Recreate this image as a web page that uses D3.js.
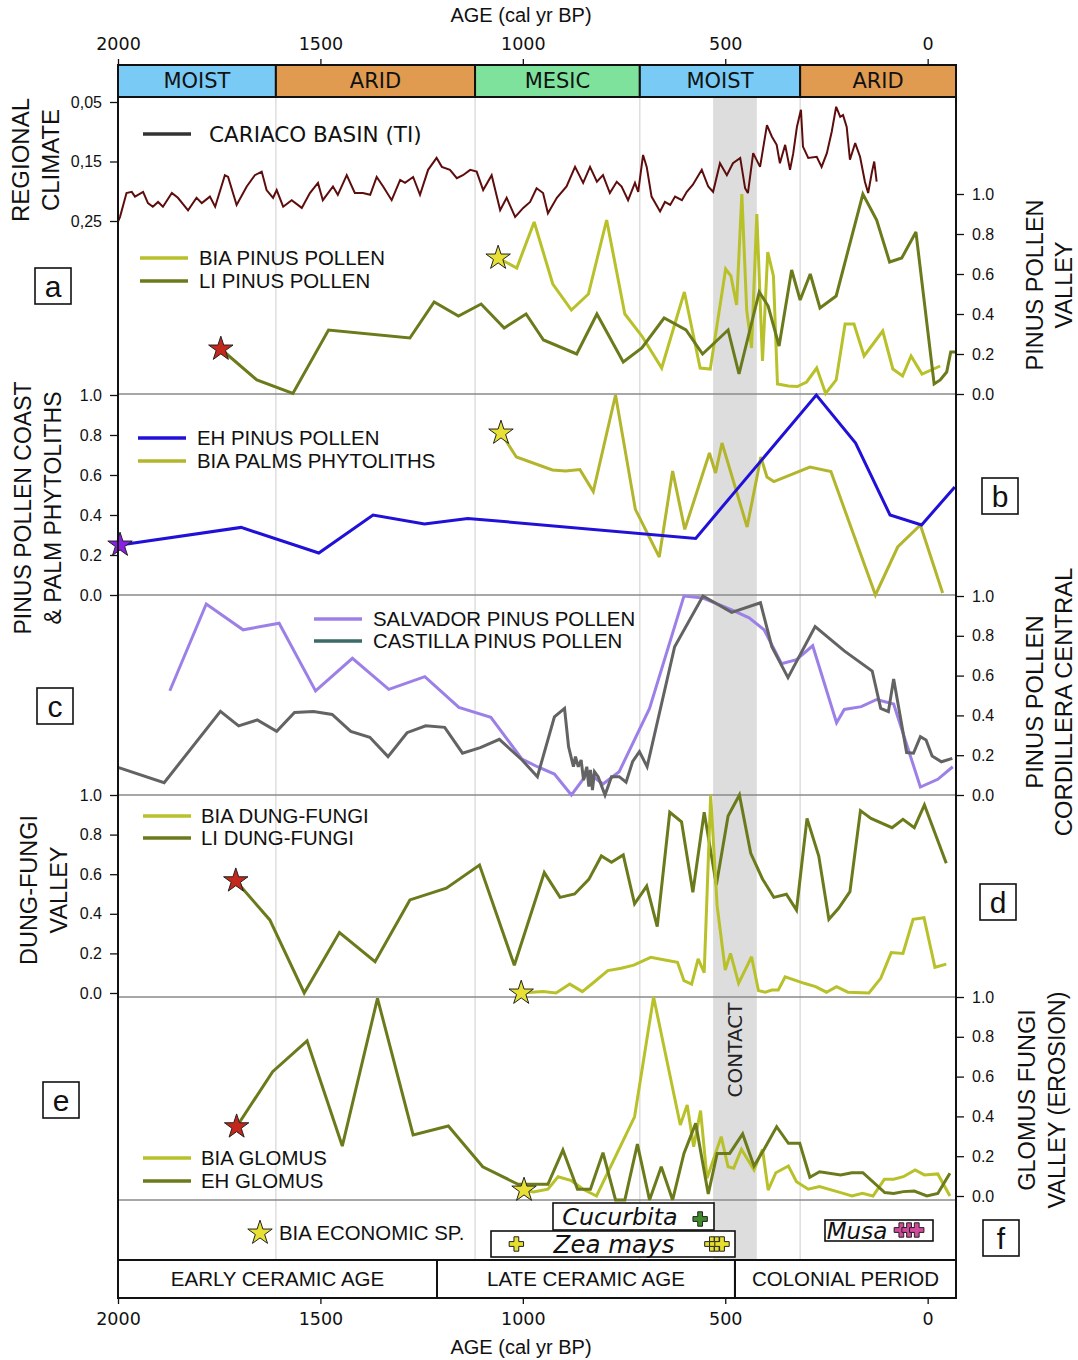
<!DOCTYPE html>
<html>
<head>
<meta charset="utf-8">
<script src="https://cdn.jsdelivr.net/npm/d3@7"></script>
<style>body{margin:0;background:#fff}</style>
</head>
<body>
<div id="chart"></div>
<script>
// ---- data (age cal yr BP, value) ----
var climateBreaks = [2000, 1610, 1118, 711, 315, -70];
var climateNames = ["MOIST", "ARID", "MESIC", "MOIST", "ARID"];
var periodBreaks = [2000, 1212, 476, -70];
var periodNames = ["EARLY CERAMIC AGE", "LATE CERAMIC AGE", "COLONIAL PERIOD"];
var contactAges = [530, 422];
var ageTicks = [2000, 1500, 1000, 500, 0];

var cariaco = [[2000,0.251],[1995,0.243],[1979,0.203],[1966,0.201],[1958,0.209],[1938,0.201],[1926,0.220],[1914,0.226],[1901,0.218],[1889,0.226],[1867,0.203],[1852,0.211],[1827,0.232],[1806,0.211],[1793,0.220],[1773,0.209],[1760,0.226],[1736,0.173],[1728,0.176],[1707,0.223],[1682,0.192],[1662,0.173],[1645,0.167],[1633,0.198],[1617,0.211],[1608,0.198],[1592,0.226],[1571,0.215],[1546,0.228],[1526,0.203],[1506,0.186],[1494,0.215],[1469,0.192],[1457,0.206],[1435,0.173],[1415,0.203],[1395,0.203],[1377,0.206],[1361,0.176],[1345,0.192],[1324,0.215],[1303,0.181],[1291,0.186],[1271,0.176],[1254,0.206],[1234,0.164],[1213,0.144],[1200,0.159],[1180,0.164],[1163,0.178],[1148,0.173],[1130,0.164],[1114,0.167],[1098,0.198],[1077,0.173],[1056,0.232],[1040,0.211],[1019,0.243],[999,0.228],[982,0.218],[966,0.195],[950,0.203],[938,0.237],[916,0.211],[892,0.192],[871,0.159],[851,0.186],[834,0.159],[817,0.184],[802,0.173],[785,0.203],[768,0.184],[756,0.192],[740,0.215],[723,0.186],[715,0.201],[703,0.139],[694,0.159],[682,0.209],[661,0.234],[649,0.218],[636,0.223],[624,0.209],[607,0.215],[595,0.201],[580,0.189],[558,0.164],[542,0.192],[530,0.201],[513,0.153],[496,0.173],[481,0.153],[463,0.144],[451,0.195],[444,0.203],[431,0.136],[414,0.159],[397,0.089],[385,0.108],[373,0.122],[365,0.153],[352,0.122],[340,0.164],[332,0.136],[323,0.092],[313,0.063],[308,0.125],[295,0.144],[274,0.142],[262,0.159],[249,0.136],[237,0.100],[226,0.058],[216,0.075],[209,0.072],[200,0.092],[192,0.147],[179,0.119],[167,0.142],[155,0.184],[147,0.203],[138,0.169],[132,0.150],[126,0.184]];

var liPinus = [[1746,0.225],[1657,0.07],[1568,0.003],[1480,0.32],[1279,0.28],[1219,0.46],[1159,0.39],[1103,0.45],[1046,0.33],[992,0.40],[949,0.27],[867,0.20],[817,0.40],[752,0.16],[706,0.23],[651,0.38],[597,0.32],[556,0.20],[493,0.32],[466,0.10],[416,0.51],[394,0.44],[367,0.24],[336,0.62],[315,0.47],[290,0.60],[266,0.43],[226,0.49],[160,1.0],[126,0.87],[94,0.66],[64,0.68],[29,0.81],[-16,0.05],[-31,0.07],[-47,0.11],[-57,0.21],[-70,0.21]];
var biaPinus = [[1061,0.68],[1015,0.63],[972,0.86],[926,0.55],[880,0.42],[838,0.50],[793,0.87],[748,0.40],[706,0.29],[657,0.13],[601,0.51],[562,0.13],[537,0.125],[499,0.625],[486,0.59],[472,0.445],[459,1.0],[447,0.42],[435,0.23],[422,0.90],[408,0.165],[395,0.71],[381,0.59],[371,0.05],[344,0.04],[322,0.037],[299,0.06],[274,0.13],[252,0.003],[226,0.07],[204,0.35],[182,0.35],[157,0.19],[111,0.315],[86,0.125],[62,0.09],[41,0.19],[14,0.1],[-31,0.14]];

var ehPinus = [[1995,0.25],[1696,0.338],[1504,0.21],[1370,0.40],[1243,0.355],[1136,0.383],[573,0.283],[275,1.0],[178,0.76],[93,0.40],[15,0.35],[-67,0.54]];
var palms = [[1054,0.81],[1016,0.69],[927,0.625],[894,0.62],[859,0.627],[826,0.517],[771,1.0],[722,0.428],[663,0.19],[630,0.62],[600,0.328],[539,0.71],[524,0.61],[508,0.76],[446,0.34],[412,0.69],[397,0.59],[380,0.567],[291,0.64],[239,0.617],[129,0.0],[74,0.24],[18,0.35],[-37,0.01]];

var salvador = [[1872,0.524],[1782,0.96],[1691,0.83],[1602,0.863],[1512,0.523],[1421,0.687],[1331,0.531],[1242,0.595],[1158,0.44],[1079,0.39],[1002,0.18],[964,0.142],[922,0.105],[880,0.0],[839,0.112],[802,0.055],[762,0.117],[687,0.435],[602,1.0],[555,0.99],[484,0.93],[441,0.89],[404,0.83],[361,0.66],[324,0.68],[284,0.75],[225,0.363],[206,0.43],[164,0.444],[126,0.48],[84,0.457],[18,0.04],[-25,0.079],[-62,0.142]];
var castilla = [[2000,0.139],[1886,0.062],[1747,0.42],[1702,0.347],[1656,0.377],[1608,0.32],[1564,0.415],[1517,0.42],[1471,0.405],[1425,0.32],[1378,0.29],[1333,0.193],[1286,0.313],[1240,0.348],[1193,0.34],[1149,0.21],[1105,0.238],[1058,0.28],[1002,0.176],[964,0.092],[922,0.393],[897,0.435],[887,0.243],[875,0.142],[870,0.193],[863,0.142],[856,0.176],[850,0.075],[842,0.142],[837,0.042],[833,0.126],[828,0.025],[823,0.117],[814,0.092],[797,0.0],[781,0.092],[762,0.092],[745,0.064],[729,0.167],[712,0.218],[693,0.142],[625,0.745],[555,1.0],[484,0.918],[413,0.966],[385,0.745],[345,0.59],[278,0.846],[206,0.724],[137,0.623],[116,0.435],[97,0.419],[84,0.583],[52,0.213],[35,0.21],[18,0.293],[4,0.276],[-11,0.196],[-34,0.167],[-61,0.184]];

var liDung = [[1709,0.567],[1625,0.369],[1540,0.0],[1453,0.305],[1365,0.158],[1279,0.47],[1189,0.529],[1107,0.646],[1021,0.14],[947,0.608],[908,0.483],[872,0.5],[837,0.574],[806,0.692],[781,0.66],[752,0.697],[724,0.45],[694,0.54],[668,0.335],[637,0.913],[608,0.865],[580,0.509],[552,0.913],[522,0.545],[493,0.894],[465,1.0],[437,0.705],[408,0.576],[380,0.483],[349,0.499],[324,0.419],[298,0.882],[269,0.692],[244,0.372],[220,0.428],[192,0.512],[166,0.921],[140,0.882],[88,0.835],[61,0.877],[33,0.835],[8,0.95],[-46,0.655]];
var biaDung = [[1004,0.0],[950,0.007],[918,0.0],[884,0.045],[853,0.007],[823,0.057],[790,0.113],[757,0.125],[726,0.141],[684,0.18],[649,0.167],[618,0.155],[602,0.062],[583,0.045],[567,0.172],[552,0.103],[536,1.0],[520,0.44],[500,0.116],[487,0.2],[467,0.049],[435,0.183],[418,0.012],[401,0.004],[385,0.015],[369,0.015],[352,0.082],[305,0.049],[277,0.032],[250,0.004],[225,0.032],[197,0.004],[145,0.0],[116,0.074],[90,0.204],[61,0.2],[36,0.372],[9,0.38],[-18,0.13],[-46,0.146]];

var ehGlomus = [[1707,0.348],[1618,0.625],[1533,0.78],[1446,0.251],[1359,0.993],[1271,0.307],[1184,0.352],[1099,0.147],[1012,0.059],[938,0.059],[901,0.231],[865,0.034],[833,0.034],[802,0.218],[771,-0.02],[748,-0.02],[717,0.261],[687,-0.02],[658,0.147],[630,-0.02],[602,0.214],[573,0.365],[542,0.01],[520,0.214],[489,0.214],[457,0.312],[429,0.151],[404,0.235],[373,0.348],[344,0.265],[316,0.265],[291,0.094],[267,0.122],[215,0.106],[187,0.117],[160,0.117],[106,0.017],[84,0.013],[60,0.022],[33,0.025],[2,0.0],[-25,0.013],[-55,0.114]];
var biaGlomus = [[997,0.03],[974,0.02],[938,0.034],[913,0.097],[880,0.077],[851,0.034],[818,0.0],[724,0.398],[677,1.0],[611,0.357],[594,0.457],[578,0.248],[561,0.429],[545,0.089],[510,0.298],[493,0.147],[479,0.14],[460,0.235],[429,0.131],[408,0.235],[394,0.03],[375,0.117],[344,0.151],[324,0.072],[295,0.034],[267,0.047],[215,0.017],[187,0.0],[161,0.013],[135,0.0],[107,0.084],[84,0.084],[60,0.097],[31,0.131],[8,0.106],[-25,0.111],[-55,0.0]];

var cucurbitaAges = [562];
var zeaAges = [1016, 533, 521, 508];
var musaAges = [65, 46, 27];

// ---- settings ----
var W = 1078, H = 1360, L = 118, R = 956;
var col = {cariaco: "#5e0d0d", light: "#b8c12a", olive: "#6b7a1b", blue: "#2010d8", palms: "#b3b52c",
    salvador: "#9c80e8", castilla: "#636363", castillaKey: "#3c6a66", contact: "#dddddd", grid: "#d6d6d6",
    moist: "#79cbf5", arid: "#e09b50", mesic: "#7ee29c"};
var font = {sans: "'Liberation Sans', Arial, sans-serif", deja: "'DejaVu Sans', Verdana, sans-serif"};
var climateCol = {MOIST: col.moist, ARID: col.arid, MESIC: col.mesic};

var svg = d3.select("#chart").append("svg")
    .attr("width", W).attr("height", H).style("display", "block");
svg.append("rect").attr("width", W).attr("height", H).attr("fill", "#fff");

var x = d3.scaleLinear().domain([2000, -70]).range([L, R]);
var yTi = d3.scaleLinear().domain([0.05, 0.25]).range([102, 221]);
var yA = d3.scaleLinear().domain([0, 1]).range([394, 194]);
var yB = d3.scaleLinear().domain([0, 1]).range([595, 395]);
var yC = d3.scaleLinear().domain([0, 1]).range([795, 596]);
var yD = d3.scaleLinear().domain([0, 1]).range([993, 795]);
var yE = d3.scaleLinear().domain([0, 1]).range([1196, 997]);

// contact band & gridlines
svg.append("rect")
    .attr("x", x(contactAges[0])).attr("width", x(contactAges[1]) - x(contactAges[0]))
    .attr("y", 97).attr("height", 1260 - 97).attr("fill", col.contact);
svg.selectAll(".grid").data(climateBreaks.slice(1, -1)).enter().append("line")
    .attr("x1", d => x(d)).attr("x2", d => x(d)).attr("y1", 97).attr("y2", 1260)
    .attr("stroke", col.grid).attr("stroke-width", 1.2);
svg.append("text").text("CONTACT")
    .attr("transform", "translate(" + (x(contactAges[0]) + x(contactAges[1])) / 2 + ",1050) rotate(-90)")
    .attr("text-anchor", "middle").attr("dy", "0.35em")
    .attr("font-family", font.deja).attr("font-size", "20px").attr("fill", "#222");

// panel separators
[394, 595, 795, 997, 1200].forEach(function(yy) {
    svg.append("line").attr("x1", L).attr("x2", R).attr("y1", yy).attr("y2", yy)
        .attr("stroke", "#8a8a8a").attr("stroke-width", 1.3);
});

// series
function drawLine(data, y, color, width) {
    svg.append("path").datum(data)
        .attr("fill", "none").attr("stroke", color).attr("stroke-width", width)
        .attr("stroke-linejoin", "miter").attr("stroke-miterlimit", 3)
        .attr("d", d3.line().x(d => x(d[0])).y(d => y(d[1])));
}
drawLine(cariaco, yTi, col.cariaco, 2);
drawLine(biaPinus, yA, col.light, 3);
drawLine(liPinus, yA, col.olive, 3);
drawLine(palms, yB, col.palms, 3);
drawLine(ehPinus, yB, col.blue, 3);
drawLine(salvador, yC, col.salvador, 3);
drawLine(castilla, yC, col.castilla, 3);
drawLine(liDung, yD, col.olive, 3);
drawLine(biaDung, yD, col.light, 3);
drawLine(biaGlomus, yE, col.light, 3);
drawLine(ehGlomus, yE, col.olive, 3);

// stars at the start of records
var star = d3.symbol().type(d3.symbolStar).size(185);
function drawStar(px, py, fill) {
    svg.append("path").attr("d", star)
        .attr("transform", "translate(" + px + "," + py + ")")
        .attr("fill", fill).attr("stroke", "#222").attr("stroke-width", 1);
}
[[liPinus, yA], [liDung, yD], [ehGlomus, yE]].forEach(s => drawStar(x(s[0][0][0]), s[1](s[0][0][1]), "#c4281c"));
[[biaPinus, yA], [palms, yB], [biaDung, yD], [biaGlomus, yE]].forEach(s => drawStar(x(s[0][0][0]), s[1](s[0][0][1]), "#e8e035"));
drawStar(x(ehPinus[0][0]), yB(ehPinus[0][1]), "#8a1ee6");

// climate band
var band = svg.append("g");
climateNames.forEach(function(n, i) {
    var x0 = x(climateBreaks[i]), x1 = x(climateBreaks[i + 1]);
    band.append("rect").attr("x", x0).attr("y", 65).attr("width", x1 - x0).attr("height", 32)
        .attr("fill", climateCol[n]).attr("stroke", "#111").attr("stroke-width", 2);
    band.append("text").text(n).attr("x", (x0 + x1) / 2).attr("y", 81).attr("dy", "0.35em")
        .attr("text-anchor", "middle").attr("font-family", font.deja).attr("font-size", "21px").attr("fill", "#111");
});

// period bar
periodNames.forEach(function(n, i) {
    var x0 = x(periodBreaks[i]), x1 = x(periodBreaks[i + 1]);
    svg.append("rect").attr("x", x0).attr("y", 1260).attr("width", x1 - x0).attr("height", 38)
        .attr("fill", "none").attr("stroke", "#111").attr("stroke-width", 2);
    svg.append("text").text(n).attr("x", (x0 + x1) / 2).attr("y", 1279).attr("dy", "0.35em")
        .attr("text-anchor", "middle").attr("font-family", font.sans).attr("font-size", "20.5px").attr("fill", "#111");
});

// frame
svg.append("line").attr("x1", L).attr("x2", L).attr("y1", 65).attr("y2", 1298).attr("stroke", "#111").attr("stroke-width", 2);
svg.append("line").attr("x1", R).attr("x2", R).attr("y1", 65).attr("y2", 1298).attr("stroke", "#111").attr("stroke-width", 2);

// age axes
function ageAxis(gen, yy, pad) {
    var g = svg.append("g").attr("transform", "translate(0," + yy + ")");
    g.call(gen(x).tickValues(d3.range(2000, -1, -100)).tickSize(4).tickFormat(""));
    g.call(gen(x).tickValues(ageTicks).tickSize(6).tickPadding(pad).tickFormat(d3.format("d")));
    g.selectAll(".domain").remove();
    g.selectAll("line").attr("stroke", "#111").attr("stroke-width", 1.3);
    g.selectAll("text").attr("font-family", font.deja).attr("font-size", "17.5px").attr("fill", "#111");
}
ageAxis(d3.axisTop, 65, 9);
ageAxis(d3.axisBottom, 1298, 9);
svg.selectAll(".agetitle").data([15, 1347]).enter().append("text")
    .text("AGE (cal yr BP)").attr("x", 521).attr("y", d => d).attr("dy", "0.35em")
    .attr("text-anchor", "middle").attr("font-family", font.sans).attr("font-size", "20px").attr("fill", "#111");

// value axes
function valueAxis(y, side) {
    var gen = side === "right" ? d3.axisRight : d3.axisLeft;
    var g = svg.append("g").attr("transform", "translate(" + (side === "right" ? R : L) + ",0)");
    g.call(gen(y).tickValues(d3.range(0, 1.001, 0.05)).tickSize(4).tickFormat(""));
    g.call(gen(y).tickValues([0, 0.2, 0.4, 0.6, 0.8, 1]).tickSize(8).tickPadding(8).tickFormat(d3.format(".1f")));
    g.selectAll(".domain").remove();
    g.selectAll("line").attr("stroke", "#111").attr("stroke-width", 1.3);
    g.selectAll("text").attr("font-family", font.sans).attr("font-size", "16px").attr("fill", "#111");
}
valueAxis(yA, "right");
valueAxis(yB, "left");
valueAxis(yC, "right");
valueAxis(yD, "left");
valueAxis(yE, "right");

var gTi = svg.append("g").attr("transform", "translate(" + L + ",0)");
gTi.call(d3.axisLeft(yTi).tickValues(d3.range(0.05, 0.2501, 0.01)).tickSize(4).tickFormat(""));
gTi.call(d3.axisLeft(yTi).tickValues([0.05, 0.15, 0.25]).tickSize(8).tickPadding(8)
    .tickFormat(d => d3.format(".2f")(d).replace(".", ",")));
gTi.selectAll(".domain").remove();
gTi.selectAll("line").attr("stroke", "#111").attr("stroke-width", 1.3);
gTi.selectAll("text").attr("font-family", font.sans).attr("font-size", "16px").attr("fill", "#111");

// axis titles
function title(lines, cx, cy, gap, size) {
    lines.forEach(function(t, i) {
        svg.append("text").text(t)
            .attr("transform", "translate(" + (cx + i * gap) + "," + cy + ") rotate(-90)")
            .attr("text-anchor", "middle").attr("dy", "0.35em")
            .attr("font-family", font.sans).attr("font-size", (size || 23) + "px").attr("fill", "#111");
    });
}
title(["REGIONAL", "CLIMATE"], 21, 160, 30, 24);
title(["PINUS POLLEN COAST", "& PALM PHYTOLITHS"], 23, 508, 30);
title(["DUNG-FUNGI", "VALLEY"], 29, 890, 30, 23.5);
title(["PINUS POLLEN", "VALLEY"], 1035, 285, 29, 23.5);
title(["PINUS POLLEN", "CORDILLERA CENTRAL"], 1035, 702, 29, 23.8);
title(["GLOMUS FUNGI", "VALLEY (EROSION)"], 1027, 1100, 30, 23.5);

// panel letters
[["a", 53, 286], ["b", 1000, 496], ["c", 55, 706], ["d", 998, 902], ["e", 61, 1100], ["f", 1001, 1238]].forEach(function(p) {
    svg.append("rect").attr("x", p[1] - 18).attr("y", p[2] - 18).attr("width", 36).attr("height", 36)
        .attr("fill", "#fff").attr("stroke", "#111").attr("stroke-width", 1.6);
    svg.append("text").text(p[0]).attr("x", p[1]).attr("y", p[2]).attr("dy", "0.35em")
        .attr("text-anchor", "middle").attr("font-family", font.sans).attr("font-size", "30px").attr("fill", "#111");
});

// legends
function legend(items, x0, y0, gap, tx) {
    items.forEach(function(it, i) {
        var yy = y0 + i * gap;
        svg.append("line").attr("x1", x0).attr("x2", x0 + 48).attr("y1", yy).attr("y2", yy)
            .attr("stroke", it[1]).attr("stroke-width", 3.5);
        svg.append("text").text(it[0]).attr("x", tx).attr("y", yy).attr("dy", "0.35em")
            .attr("font-family", it[2] || font.sans).attr("font-size", it[3] || "20.4px").attr("fill", "#111");
    });
}
legend([["CARIACO BASIN (TI)", "#333", font.deja, "21.5px"]], 143, 134, 0, 209);
legend([["BIA PINUS POLLEN", col.light], ["LI PINUS POLLEN", col.olive]], 140, 258, 23, 199);
legend([["EH PINUS POLLEN", col.blue], ["BIA PALMS PHYTOLITHS", col.palms]], 138, 438, 23, 197);
legend([["SALVADOR PINUS POLLEN", col.salvador], ["CASTILLA PINUS POLLEN", col.castillaKey]], 314, 619, 22, 373);
legend([["BIA DUNG-FUNGI", col.light], ["LI DUNG-FUNGI", col.olive]], 143, 816, 22, 201);
legend([["BIA GLOMUS", col.light], ["EH GLOMUS", col.olive]], 143, 1158, 23, 201);

// panel f: economic species
drawStar(260, 1233, "#e8e035");
svg.append("text").text("BIA ECONOMIC SP.").attr("x", 279).attr("y", 1233).attr("dy", "0.35em")
    .attr("font-family", font.sans).attr("font-size", "20.4px").attr("fill", "#111");

var cross = d3.symbol().type(d3.symbolCross).size(115);
function cropBox(name, bx, by, bw, bh, tx, size, ages, cy, fill) {
    svg.append("rect").attr("x", bx).attr("y", by).attr("width", bw).attr("height", bh)
        .attr("fill", "#fff").attr("stroke", "#111").attr("stroke-width", 1.6);
    svg.append("text").text(name).attr("x", tx).attr("y", by + bh / 2).attr("dy", "0.35em")
        .attr("text-anchor", "middle").attr("font-family", font.deja).attr("font-style", "italic")
        .attr("font-size", size).attr("fill", "#111");
    ages.forEach(function(a) {
        svg.append("path").attr("d", cross).attr("transform", "translate(" + x(a) + "," + cy + ")")
            .attr("fill", fill).attr("stroke", "#222").attr("stroke-width", 1);
    });
}
cropBox("Cucurbita", 553, 1203, 161, 27, 620, "23.8px", cucurbitaAges, 1219, "#3f8a2a");
cropBox("Zea mays", 491, 1231, 244, 26, 614, "24.5px", zeaAges, 1244, "#e6df30");
cropBox("Musa", 825, 1220, 108, 21, 857, "23px", musaAges, 1230, "#d2489a");
</script>
</body>
</html>
